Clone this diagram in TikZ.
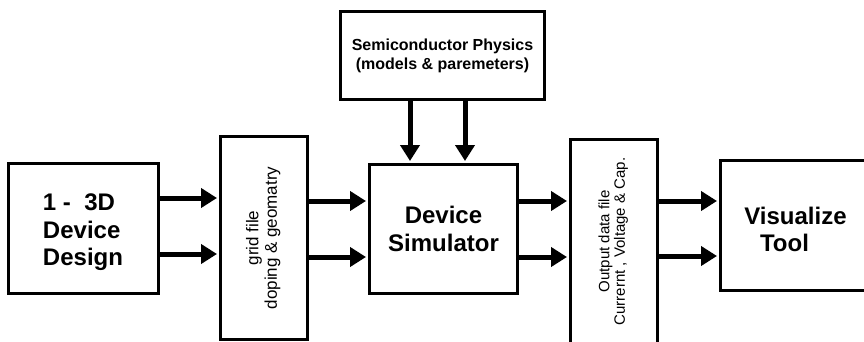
\documentclass[tikz,border=0pt]{standalone}
\usepackage{fontspec}
\usepackage{graphicx}
\setmainfont{Liberation Sans}
\usetikzlibrary{arrows.meta}
\tikzset{
  box/.style={draw=black, line width=3pt, fill=white, inner sep=0pt, outer sep=1.5pt},
  bigtxt/.style={font=\fontsize{24}{27.5}\selectfont\bfseries},
  arr/.style={line width=5pt, -{Triangle[length=16pt,width=19pt]}, shorten >=2pt}
}
\begin{document}
\begin{tikzpicture}[x=1pt,y=-1pt]
\useasboundingbox (0,0) rectangle (864,342);
\clip (0,0) rectangle (864,342);
\fill[white] (0,0) rectangle (864,342);
% boxes
\node[box, bigtxt, align=left, minimum width=150pt, minimum height=130pt] (dd) at (83,228) {\rule{0pt}{26pt}1 -\ \ 3D\\Device\\Design};
\node[box, minimum width=87pt, minimum height=203pt] (grid) at (264,238)
  {\rotatebox{90}{\fontsize{17}{18.5}\selectfont\begin{tabular}{@{}c@{}}grid file\\doping \& geomatry\end{tabular}}};
\node[box, font=\fontsize{16}{19}\selectfont\bfseries, align=center, minimum width=204pt, minimum height=88pt] (phys) at (442.5,55.5)
  {Semiconductor Physics\\(models \& paremeters)};
\node[box, bigtxt, align=center, minimum width=148pt, minimum height=129pt] (sim) at (443.5,229) {Device\\Simulator};
\node[box, minimum width=87pt, minimum height=204pt] (out) at (614,241.5)
  {\rotatebox{90}{\fontsize{15}{15.5}\selectfont\begin{tabular}{@{}c@{}}Output data file\\Currernt , Voltage \& Cap.\end{tabular}}};
\node[box, bigtxt, align=center, minimum width=150pt, minimum height=130pt] (vis) at (795.5,225.5) {\rule{0pt}{25pt}Visualize\\Tool\hspace*{22pt}};
% arrows
\draw[arr] (dd.east |- 0,198) -- (grid.west |- 0,198);
\draw[arr] (dd.east |- 0,254) -- (grid.west |- 0,254);
\draw[arr] (grid.east |- 0,201) -- (sim.west |- 0,201);
\draw[arr] (grid.east |- 0,257) -- (sim.west |- 0,257);
\draw[arr] (phys.south -| 410,0) -- (sim.north -| 410,0);
\draw[arr] (phys.south -| 465,0) -- (sim.north -| 465,0);
\draw[arr] (sim.east |- 0,201) -- (out.west |- 0,201);
\draw[arr] (sim.east |- 0,257) -- (out.west |- 0,257);
\draw[arr] (out.east |- 0,201) -- (vis.west |- 0,201);
\draw[arr] (out.east |- 0,256) -- (vis.west |- 0,256);
\end{tikzpicture}
\end{document}
